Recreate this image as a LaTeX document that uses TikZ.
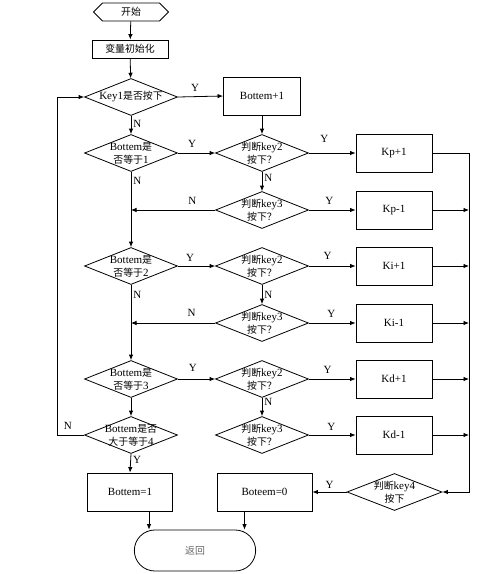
\documentclass[tikz,border=0pt]{standalone}
\usepackage{fontspec}
\setmainfont{Liberation Serif}
\newfontfamily\cjk[Scale=0.9]{Noto Sans CJK SC}
\newcommand{\zh}[1]{{\cjk #1}}
\usetikzlibrary{shapes.geometric,shapes.misc,shapes.symbols,arrows.meta,positioning}

\begin{document}
\begin{tikzpicture}[x=1pt, y=-1pt, line width=0.8pt, >={Latex[length=5.5pt,width=4.5pt]},
    every node/.style={font=\fontsize{11}{13}\selectfont},
    box/.style={draw, rectangle, minimum width=76pt, minimum height=38pt},
    decision/.style={draw, diamond, minimum width=93pt, minimum height=37pt, inner sep=0pt,
        label={[align=center]center:#1}},
    yn/.style={inner sep=2pt}]
    \useasboundingbox (0,0) rectangle (480,574);

    % left column
    \node[draw, signal, signal to=west and east, signal pointer angle=90,
          minimum width=75pt, minimum height=18pt, inner sep=0pt] (start) at (131,12) {\zh{开始}};
    \node[draw, rectangle, minimum width=76pt, minimum height=18pt, inner sep=0pt] (init) at (130,49) {\zh{变量初始化}};
    \node[decision={Key1\zh{是否按下}}] (k1) at (131,97) {};
    \node[decision={Bottem\zh{是}\\\zh{否等于}1}] (b1) at (131,153) {};
    \node[decision={Bottem\zh{是}\\\zh{否等于}2}] (b2) at (131,266) {};
    \node[decision={Bottem\zh{是}\\\zh{否等于}3}] (b3) at (131,379) {};
    \node[decision={Bottem\zh{是否}\\\zh{大于等于}4}] (b4) at (131,435) {};
    \node[box, minimum width=85pt] (bz) at (130,492) {Bottem=1};

    % middle column
    \node[box, minimum width=77pt] (bp) at (262,96) {Bottem+1};
    \node[decision={\zh{判断}key2\\\zh{按下？}}] (j21) at (262,153) {};
    \node[decision={\zh{判断}key3\\\zh{按下？}}] (j31) at (262,210) {};
    \node[decision={\zh{判断}key2\\\zh{按下？}}] (j22) at (262,266) {};
    \node[decision={\zh{判断}key3\\\zh{按下？}}] (j32) at (262,323) {};
    \node[decision={\zh{判断}key2\\\zh{按下？}}] (j23) at (262,379) {};
    \node[decision={\zh{判断}key3\\\zh{按下？}}] (j33) at (262,435) {};
    \node[box, minimum width=95pt] (z0) at (264.5,492) {Boteem=0};

    % right column
    \node[box] (kp1) at (394,153) {Kp+1};
    \node[box] (km1) at (394,210) {Kp-1};
    \node[box] (ki1) at (394,266) {Ki+1};
    \node[box] (kim) at (394,323) {Ki-1};
    \node[box] (kd1) at (394,379) {Kd+1};
    \node[box] (kdm) at (394,435) {Kd-1};
    \node[decision={\zh{判断}key4\\\zh{按下}}, minimum width=95pt] (k4) at (394.5,492) {};

    \node[draw, rounded rectangle, minimum width=128pt, minimum height=41pt,
          text=black!60] (ret) at (195,550.5) {\zh{返回}};

    \coordinate (bus) at (469,153);
    \coordinate (loop) at (57,97);

    % connectors
    \draw[->] (start) -- (init);
    \draw[->] (init) -- (k1);
    \draw[->] (k1.east) -- node[above=3pt, pos=0.38, yn] {Y} (bp.west);
    \draw[->] (k1.south) -- node[right, pos=0.45, yn] {N} (b1.north);
    \draw[->] (bp.south) -- (j21.north);
    \draw[->] (b1.east) -- node[above=3pt, pos=0.38, yn] {Y} (j21.west);
    \draw[->] (j21.east) -- node[above=8pt, pos=0.33, yn] {Y} (kp1.west);
    \draw[->] (j21.south) -- node[right, pos=0.3, yn] {N} (j31.north);
    \draw[->] (j31.east) -- node[above=3pt, pos=0.44, yn] {Y} (km1.west);
    \draw[->] (j31.west) -- node[above=3pt, pos=0.27, yn] {N} (j31.west -| b1);
    \draw[->] (b1.south) -- node[right, pos=0.12, yn] {N} (b2.north);

    \draw[->] (b2.east) -- node[above=2pt, pos=0.33, yn] {Y} (j22.west);
    \draw[->] (j22.east) -- node[above=4pt, pos=0.4, yn] {Y} (ki1.west);
    \draw[->] (j22.south) -- node[right, pos=0.5, yn] {N} (j32.north);
    \draw[->] (j32.east) -- node[above=3pt, pos=0.48, yn] {Y} (kim.west);
    \draw[->] (j32.west) -- node[above=4pt, pos=0.28, yn] {N} (j32.west -| b2);
    \draw[->] (b2.south) -- node[right, pos=0.13, yn] {N} (b3.north);

    \draw[->] (b3.east) -- node[above=5pt, pos=0.4, yn] {Y} (j23.west);
    \draw[->] (j23.east) -- node[above=3pt, pos=0.4, yn] {Y} (kd1.west);
    \draw[->] (j23.south) -- node[right, pos=0.2, yn] {N} (j33.north);
    \draw[->] (j33.east) -- node[above=2pt, pos=0.48, yn] {Y} (kdm.west);
    \draw[->] (b3.south) -- (b4.north);

    \draw[->] (b4.west) -- node[above=3pt, pos=0.6, yn] {N} (b4.west -| loop) -- (loop) -- (k1.west);
    \draw[->] (b4.south) -- node[right, pos=0.3, yn] {Y} (bz.north);

    % right bus
    \draw[->] (kp1.east) -- (bus) |- (k4.east);
    \draw[->] (km1.east) -- (km1.east -| bus);
    \draw[->] (ki1.east) -- (ki1.east -| bus);
    \draw[->] (kim.east) -- (kim.east -| bus);
    \draw[->] (kd1.east) -- (kd1.east -| bus);
    \draw[->] (kdm.east) -- (kdm.east -| bus);
    \draw[->] (k4.west) -- node[above=1pt, pos=0.5, yn] {Y} (z0.east);

    \draw[->] ([xshift=19pt]bz.south) -- ([xshift=19pt]bz.south |- ret.north);
    \draw[->] ([xshift=-20pt]z0.south) -- ([xshift=-20pt]z0.south |- ret.north);
\end{tikzpicture}
\end{document}
